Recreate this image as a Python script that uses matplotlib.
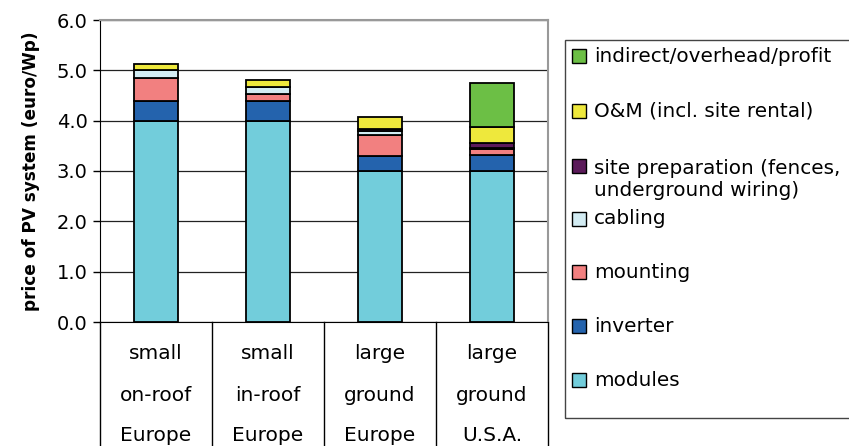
import numpy as np
import matplotlib.pyplot as plt
from matplotlib.patches import Rectangle

plt.rcParams['font.family'] = ['DejaVu Sans']

categories = [['small', 'on-roof', 'Europe'],
              ['small', 'in-roof', 'Europe'],
              ['large', 'ground', 'Europe'],
              ['large', 'ground', 'U.S.A.']]

# cost components (euro/Wp), bottom to top
modules = [4.0, 4.0, 3.0, 3.0]
inverter = [0.40, 0.40, 0.30, 0.32]
mounting = [0.45, 0.13, 0.42, 0.11]
cabling = [0.15, 0.14, 0.08, 0.02]
site_prep = [0.0, 0.0, 0.03, 0.11]
om = [0.12, 0.13, 0.25, 0.31]
indirect = [0.0, 0.0, 0.0, 0.88]

series = [
    ('modules', modules, '#72CDDB'),
    ('inverter', inverter, '#2463AD'),
    ('mounting', mounting, '#F28080'),
    ('cabling', cabling, '#D3ECF3'),
    ('site preparation (fences,\nunderground wiring)', site_prep, '#5B1A5A'),
    ('O&M (incl. site rental)', om, '#EEE83C'),
    ('indirect/overhead/profit', indirect, '#6CBF45'),
]

W, H = 849, 446
fig = plt.figure(figsize=(W / 100, H / 100), dpi=100)
ax = fig.add_axes([100 / W, (H - 322) / H, 448 / W, 302 / H])

x = np.arange(len(categories))
bottom = np.zeros(len(categories))
for name, vals, col in series:
    vals = np.array(vals)
    mask = vals > 0
    ax.bar(x[mask], vals[mask], 0.4, bottom=bottom[mask], color=col,
           edgecolor='black', linewidth=1.3, zorder=3)
    bottom += vals

ax.set_xlim(-0.5, 3.5)
ax.set_ylim(0, 6)
ax.set_yticks(np.arange(0, 6.01, 1))
ax.set_yticklabels(['%.1f' % v for v in np.arange(0, 6.01, 1)], fontsize=14)
ax.tick_params(axis='y', direction='out', length=5, width=1, pad=4)
ax.set_xticks([])
ax.grid(axis='y', color='#222222', linewidth=0.9, zorder=0)
ax.set_ylabel('price of PV system (euro/Wp)', fontsize=12.2, fontweight='bold', labelpad=12)

for s in ['top', 'right']:
    ax.spines[s].set_color('#999999')
    ax.spines[s].set_linewidth(1.5)
ax.spines['left'].set_color('black')
ax.spines['bottom'].set_color('black')

# category table below the axis
for b in np.arange(-0.5, 4, 1):
    ax.plot([b, b], [0, -0.45], transform=ax.get_xaxis_transform(),
            color='black', linewidth=1, clip_on=False)
line_y = [-0.105, -0.245, -0.375]
for i, lab in enumerate(categories):
    for j, t in enumerate(lab):
        ax.text(i, line_y[j], t, transform=ax.get_xaxis_transform(),
                ha='center', va='center', fontsize=14.5)

# legend box drawn by hand
fig.patches.append(Rectangle((565 / W, (H - 418) / H), 300 / W, 378 / H,
                             transform=fig.transFigure, fill=False,
                             edgecolor='#444444', linewidth=1))
leg_y = [56, 111, 166, 219, 272, 326, 380]
leg_items = list(reversed(series))
for (name, vals, col), yy in zip(leg_items, leg_y):
    fig.patches.append(Rectangle((572 / W, (H - yy - 7) / H), 14 / W, 14 / H,
                                 transform=fig.transFigure, facecolor=col,
                                 edgecolor='black', linewidth=1))
    ty = yy + 13 if '\n' in name else yy
    fig.text(594 / W, (H - ty) / H, name, fontsize=14.4, va='center',
             ha='left', linespacing=1.2)

fig.savefig('out.png', dpi=100)
